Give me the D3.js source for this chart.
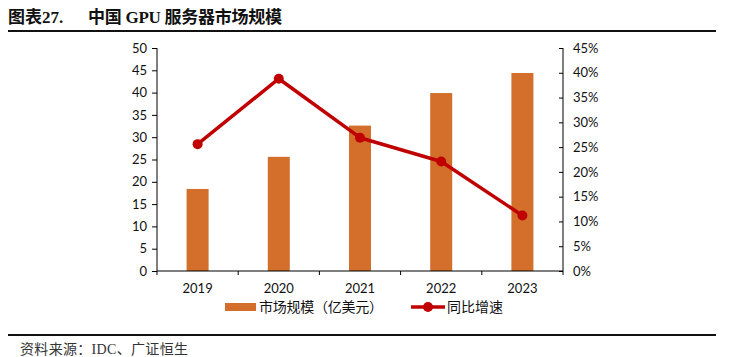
<!DOCTYPE html>
<html><head><meta charset="utf-8">
<script src="https://cdn.jsdelivr.net/npm/d3@7"></script>
<style>
body{margin:0;background:#fff;}
svg{display:block;}
</style></head>
<body>
<svg id="c" width="748" height="357"></svg>
<script>
const categories = ["2019","2020","2021","2022","2023"];
const marketSize = [18.4, 25.6, 32.6, 39.9, 44.4];
const growth = [0.256, 0.388, 0.269, 0.221, 0.112];
const leftTicks = [0,5,10,15,20,25,30,35,40,45,50];
const rightTicks = [0,0.05,0.10,0.15,0.20,0.25,0.30,0.35,0.40,0.45];
const seriesNames = ["市场规模（亿美元）","同比增速"];
const titleLabel = "图表27.";
const titleText = "中国 GPU 服务器市场规模";
const sourceText = "资料来源：IDC、广证恒生";

const svg = d3.select("#c");
const L = 157, R = 563, T = 48, B = 271;
const barColor = "#D36F2B", lineColor = "#C00000";
const axisFont = "Lato, 'Liberation Sans', 'Noto Sans CJK SC', sans-serif";
const serifFont = "'Liberation Serif','Noto Sans CJK SC',serif";

// title
svg.append("text").attr("x", 8).attr("y", 23)
  .attr("font-family", serifFont).attr("font-weight", "bold").attr("font-size", 17).attr("fill", "#111")
  .text(titleLabel);
svg.append("text").attr("x", 88).attr("y", 23)
  .attr("font-family", serifFont).attr("font-weight", "bold").attr("font-size", 17).attr("fill", "#111")
  .attr("textLength", 194).attr("lengthAdjust", "spacing").text(titleText);
svg.append("line").attr("x1", 8).attr("x2", 716).attr("y1", 31).attr("y2", 31)
  .attr("stroke", "#111").attr("stroke-width", 2);
svg.append("line").attr("x1", 8).attr("x2", 716).attr("y1", 335).attr("y2", 335)
  .attr("stroke", "#111").attr("stroke-width", 2);
svg.append("text").attr("x", 20).attr("y", 354)
  .attr("font-family", serifFont).attr("font-size", 14).attr("fill", "#333")
  .attr("textLength", 168).attr("lengthAdjust", "spacing").text(sourceText);

const x = d3.scaleBand().domain(categories).range([L, R]);
const yL = d3.scaleLinear().domain([0, 50]).range([B, T]);
const yR = d3.scaleLinear().domain([0, 0.45]).range([B, T]);

// bars
const bw = 22;
svg.append("g").selectAll("rect").data(marketSize).join("rect")
  .attr("x", (d,i) => x(categories[i]) + x.bandwidth()/2 - bw/2)
  .attr("y", d => yL(d)).attr("width", bw).attr("height", d => B - yL(d))
  .attr("fill", barColor);

// left axis
const gL = svg.append("g").attr("transform", `translate(${L},0)`)
  .call(d3.axisLeft(yL).tickValues(leftTicks).tickSize(5).tickPadding(5).tickFormat(d3.format("d")));
// right axis
const gR = svg.append("g").attr("transform", `translate(${R},0)`)
  .call(d3.axisRight(yR).tickValues(rightTicks).tickSize(-4).tickPadding(10).tickFormat(d3.format(".0%")));
// bottom axis
const gB = svg.append("g").attr("transform", `translate(0,${B})`)
  .call(d3.axisBottom(x).tickSize(0).tickPadding(13));
// category boundary ticks
const bounds = categories.map(c => x(c)).concat([R]);
svg.append("g").selectAll("line").data(bounds).join("line")
  .attr("x1", d => d).attr("x2", d => d).attr("y1", B).attr("y2", B + 4)
  .attr("stroke", "#000").attr("stroke-width", 1);

[gL, gR, gB].forEach(g => {
  g.selectAll(".domain").attr("stroke", "#000");
  g.selectAll(".tick line").attr("stroke", "#000");
  g.selectAll("text").attr("font-family", axisFont).attr("font-size", 13).attr("fill", "#111");
});
gL.select(".domain").attr("d", `M0,${T}V${B}`);
gR.select(".domain").attr("d", `M0,${T}V${B}`);
gB.select(".domain").attr("d", `M${L},0H${R}`);

// line
const line = d3.line().x((d,i) => x(categories[i]) + x.bandwidth()/2).y(d => yR(d));
svg.append("path").datum(growth).attr("d", line).attr("fill", "none")
  .attr("stroke", lineColor).attr("stroke-width", 3.5).attr("stroke-linejoin","round");
svg.append("g").selectAll("circle").data(growth).join("circle")
  .attr("cx", (d,i) => x(categories[i]) + x.bandwidth()/2).attr("cy", d => yR(d))
  .attr("r", 5).attr("fill", lineColor);

// legend
const lg = svg.append("g");
lg.append("rect").attr("x", 225).attr("y", 303).attr("width", 31).attr("height", 8).attr("fill", barColor);
lg.append("text").attr("x", 259).attr("y", 312).attr("font-family", "'Noto Sans CJK SC',sans-serif")
  .attr("font-size", 14).attr("fill", "#111")
  .attr("textLength", 124).attr("lengthAdjust", "spacing").text(seriesNames[0]);
lg.append("line").attr("x1", 411).attr("x2", 445).attr("y1", 307).attr("y2", 307)
  .attr("stroke", lineColor).attr("stroke-width", 3.5);
lg.append("circle").attr("cx", 428).attr("cy", 307).attr("r", 5).attr("fill", lineColor);
lg.append("text").attr("x", 447).attr("y", 312).attr("font-family", "'Noto Sans CJK SC',sans-serif")
  .attr("font-size", 14).attr("fill", "#111").text(seriesNames[1]);
</script>
</body></html>
